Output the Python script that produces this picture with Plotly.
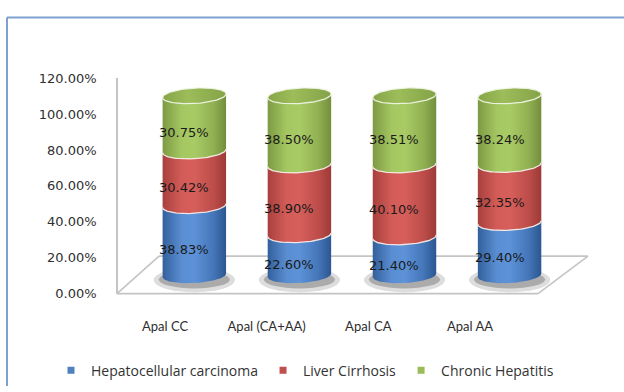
import numpy as np
import plotly.graph_objects as go

# ---------------- data ----------------
categories = ["Apal CC", "Apal (CA+AA)", "Apal CA", "Apal AA"]
hepatocellular = [38.83, 22.60, 21.40, 29.40]
cirrhosis = [30.42, 38.90, 40.10, 32.35]
hepatitis = [30.75, 38.50, 38.51, 38.24]
series_names = ["Hepatocellular carcinoma", "Liver Cirrhosis", "Chronic Hepatitis"]
tick_values = [0, 20, 40, 60, 80, 100, 120]
tick_labels = [f"{v:.2f}%" for v in tick_values]

# ---------------- style ----------------
W, H = 624, 392
def px(x):
    return x / W
def py(y):
    return 1 - y / H

legend_colors = ["#4F81BD", "#C0504D", "#9BBB59"]
gradients = [
    [[0, "#33609c"], [0.3, "#5a8ed2"], [0.5, "#5d92d8"], [0.8, "#4476b8"], [1, "#2c5690"]],
    [[0, "#a8403d"], [0.3, "#d35c58"], [0.5, "#d65f5b"], [0.8, "#bd4d4a"], [1, "#9c3a37"]],
    [[0, "#7d9a43"], [0.3, "#a5c762"], [0.5, "#a9cb65"], [0.8, "#91b052"], [1, "#728e3c"]],
]
cap_gradient = [[0, "#86a548"], [0.4, "#9dbd5a"], [1, "#84a247"]]

R = 0.302     # cylinder half width (x2 units)
EH = 4.3      # ellipse half height (y2 units)
SHEAR = 1.0   # perspective tilt

series = [hepatocellular, cirrhosis, hepatitis]

def lower_arc(cx, level, n=48):
    t = np.linspace(0, np.pi, n)
    xs = cx - R * np.cos(t)
    ys = level - EH * np.sin(t) + SHEAR * (xs - cx) / R
    return xs, ys

def full_ellipse(cx, level, n=96):
    t = np.linspace(0, 2 * np.pi, n)
    xs = cx + R * np.cos(t)
    ys = level + EH * np.sin(t) + SHEAR * (xs - cx) / R
    return xs, ys

fig = go.Figure()

# invisible trace so the front axes render
fig.add_trace(go.Scatter(x=list(range(len(categories))), y=[None] * len(categories),
                         mode="markers", showlegend=False, hoverinfo="skip",
                         xaxis="x", yaxis="y"))

# cylinders
for i in range(len(categories)):
    base = 0.0
    line_x, line_y = [], []
    for s, vals in enumerate(series):
        top = base + vals[i]
        xt, yt = lower_arc(i, top)
        xb, yb = lower_arc(i, base)
        xs = np.concatenate([xt, xb[::-1], xt[:1]])
        ys = np.concatenate([yt, yb[::-1], yt[:1]])
        fig.add_trace(go.Scatter(
            x=xs, y=ys, fill="toself", mode="lines",
            line=dict(width=0, color=legend_colors[s]),
            fillgradient=dict(type="horizontal", colorscale=gradients[s],
                              start=i - R, stop=i + R),
            showlegend=False, hoverinfo="skip", xaxis="x2", yaxis="y2"))
        if s < len(series) - 1:
            line_x += list(xt) + [None]
            line_y += list(yt) + [None]
        base = top
    # top cap
    xc, yc = full_ellipse(i, base)
    fig.add_trace(go.Scatter(
        x=xc, y=yc, fill="toself", mode="lines",
        line=dict(width=1.3, color="rgba(240,245,230,0.9)"),
        fillgradient=dict(type="horizontal", colorscale=cap_gradient,
                          start=i - R, stop=i + R),
        showlegend=False, hoverinfo="skip", xaxis="x2", yaxis="y2"))
    fig.add_trace(go.Scatter(
        x=line_x, y=line_y, mode="lines",
        line=dict(width=1.3, color="rgba(245,240,235,0.9)"),
        showlegend=False, hoverinfo="skip", xaxis="x2", yaxis="y2"))

# data labels
annotations = []
for i in range(len(categories)):
    base = 0.0
    for s, vals in enumerate(series):
        mid = base + vals[i] / 2
        annotations.append(dict(
            x=i, y=mid, xref="x2", yref="y2", text=f"{vals[i]:.2f}%",
            showarrow=False, xshift=-10, yshift=-9,
            font=dict(family="DejaVu Sans", size=13, color="#1a1a1a")))
        base += vals[i]

# legend entries
for s, name in enumerate(series_names):
    fig.add_trace(go.Scatter(x=[None], y=[None], mode="markers", name=name,
                             marker=dict(symbol="square", size=7, color=legend_colors[s]),
                             xaxis="x", yaxis="y"))

shapes = []
# shadows under cylinders
for i in range(len(categories)):
    shapes.append(dict(type="circle", xref="x2", yref="y2", layer="below",
                       x0=i - R * 1.28, x1=i + R * 1.28, y0=-EH * 2.2, y1=EH * 1.0,
                       fillcolor="rgba(120,120,120,0.25)", line=dict(width=0)))
    shapes.append(dict(type="circle", xref="x2", yref="y2", layer="below",
                       x0=i - R * 1.12, x1=i + R * 1.12, y0=-EH * 1.7, y1=EH * 0.6,
                       fillcolor="rgba(90,90,90,0.38)", line=dict(width=0)))

# floor
floor_col = "#c4c4c4"
floor = [(117, 298, 538, 298), (117, 298, 159, 259), (159, 259, 588, 259), (588, 259, 538, 298)]
for x0, y0, x1, y1 in floor:
    shapes.append(dict(type="line", xref="paper", yref="paper", layer="below",
                       x0=px(x0), y0=py(y0), x1=px(x1), y1=py(y1),
                       line=dict(color=floor_col, width=1.6)))

# outer frame
frame_col = "#7ea1d0"
shapes.append(dict(type="line", xref="paper", yref="paper", x0=px(7), y0=py(11), x1=px(W + 2), y1=py(11),
                   line=dict(color=frame_col, width=2)))
shapes.append(dict(type="line", xref="paper", yref="paper", x0=px(7), y0=py(11), x1=px(7), y1=py(H + 2),
                   line=dict(color=frame_col, width=2)))

fig.update_layout(
    width=W, height=H,
    margin=dict(l=0, r=0, t=0, b=0),
    paper_bgcolor="white", plot_bgcolor="rgba(0,0,0,0)",
    showlegend=True,
    legend=dict(orientation="h", x=px(51), xanchor="left", y=py(378), yanchor="middle",
                font=dict(family="Open Sans", size=14, color="#333333"),
                bgcolor="rgba(0,0,0,0)", itemwidth=30),
    xaxis=dict(domain=[px(114.2), px(520.8)], range=[-0.5, 3.5], anchor="y",
               tickvals=list(range(len(categories))), ticktext=categories,
               showgrid=False, zeroline=False, showline=False,
               ticks="outside", ticklen=0, ticklabelstandoff=21,
               tickfont=dict(family="Lato", size=13, color="#2e2e2e")),
    yaxis=dict(domain=[py(298), py(74)], range=[0, 120], anchor="free", position=px(117),
               tickvals=tick_values, ticktext=tick_labels,
               showgrid=False, zeroline=False, showline=True,
               linecolor="#c4c4c4", linewidth=1.5,
               ticks="outside", ticklen=0, ticklabelstandoff=17,
               tickfont=dict(family="DejaVu Sans", size=13, color="#303030")),
    xaxis2=dict(domain=[px(141.8), px(562.1)], range=[-0.5, 3.5], anchor="y2",
                visible=False, showgrid=False, zeroline=False),
    yaxis2=dict(domain=[py(301.4), py(55)], range=[-12, 120], anchor="x2",
                visible=False, showgrid=False, zeroline=False),
    shapes=shapes,
    annotations=annotations,
)

fig.write_html("out.html")
